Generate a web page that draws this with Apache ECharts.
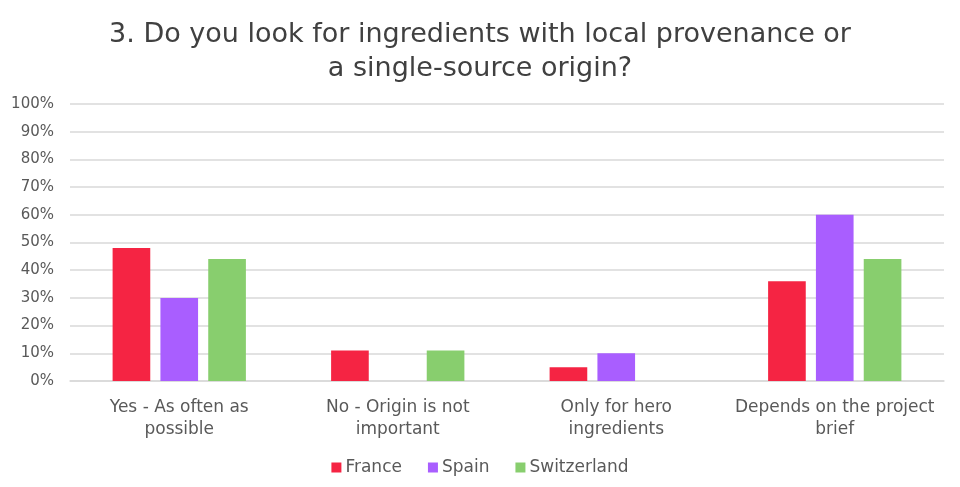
<!DOCTYPE html>
<html><head><meta charset="utf-8">
<script src="https://cdn.jsdelivr.net/npm/echarts@6/dist/echarts.min.js"></script>
<style>html,body{margin:0;padding:0;background:#fff}#c{width:960px;height:487px}</style>
</head><body><div id="c"></div>
<script>
const categories = ['Yes - As often as\npossible', 'No - Origin is not\nimportant', 'Only for hero\ningredients', 'Depends on the project\nbrief'];
const seriesNames = ['France', 'Spain', 'Switzerland'];
const france = [48, 11, 5, 36];
const spain = [30, 0, 10, 60];
const switzerland = [44, 11, 0, 44];
const colors = ['#F52443', '#A95EFF', '#88CE6E'];
const titleText = '3. Do you look for ingredients with local provenance or\na single-source origin?';

const font = '"DejaVu Sans", sans-serif';
const chart = echarts.init(document.getElementById('c'));
const data = [france, spain, switzerland];
chart.setOption({
  animation: false,
  title: {
    text: titleText, left: 'center', top: 13,
    textStyle: { fontFamily: font, fontSize: 27, fontWeight: 'normal', color: '#404040', lineHeight: 34, align: 'center' }
  },
  legend: {
    bottom: 6, left: 'center', itemWidth: 10, itemHeight: 10, itemGap: 26,
    icon: 'rect',
    textStyle: { fontFamily: font, fontSize: 17, color: '#595959', padding: [0, 0, 0, -1] },
    data: seriesNames
  },
  grid: { left: 70, right: 16, top: 104, bottom: 106, containLabel: false },
  xAxis: {
    type: 'category', data: categories,
    axisLine: { lineStyle: { color: '#d9d9d9', width: 1.5 } },
    axisTick: { show: false },
    axisLabel: { fontFamily: font, fontSize: 17, color: '#595959', lineHeight: 22, margin: 16, interval: 0 }
  },
  yAxis: {
    type: 'value', min: 0, max: 100, interval: 10,
    axisLabel: { formatter: '{value}%', fontFamily: font, fontSize: 15, color: '#595959', margin: 16 },
    splitLine: { lineStyle: { color: '#d9d9d9', width: 1.5 } },
    axisLine: { show: false }, axisTick: { show: false }
  },
  series: seriesNames.map((n, i) => ({
    name: n, type: 'bar', data: data[i],
    itemStyle: { color: colors[i] },
    barGap: '27%', barCategoryGap: '39%'
  }))
});
</script></body></html>
